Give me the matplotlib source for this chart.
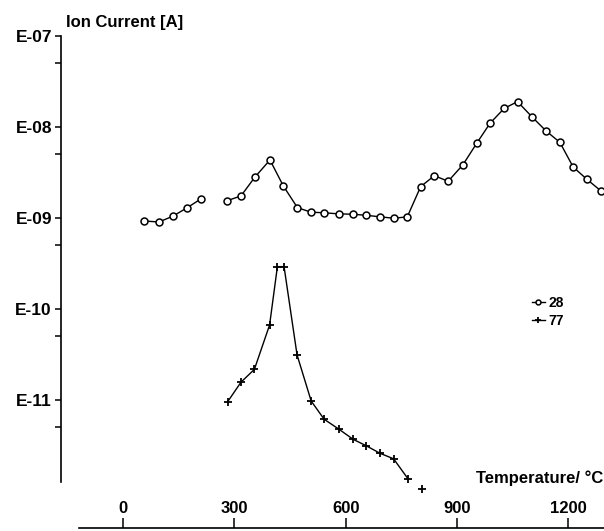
import numpy as np
import matplotlib
matplotlib.use('Agg')
import matplotlib.pyplot as plt
from matplotlib.ticker import FixedLocator, NullFormatter

plt.rcParams['font.family'] = ['Liberation Sans', 'DejaVu Sans']

# mass 28 (circles); two separate pieces
t28a = [57, 97, 135, 172, 210]
v28a = [9.27e-10, 9.04e-10, 1.05e-09, 1.29e-09, 1.62e-09]
t28b = [281, 318, 355, 396, 432, 470, 506, 542, 582, 619, 656, 693, 730, 766,
        802, 839, 876, 916, 953, 989, 1027, 1063, 1103, 1140, 1177, 1213, 1250, 1288]
v28b = [1.55e-09, 1.75e-09, 2.80e-09, 4.34e-09, 2.25e-09, 1.30e-09, 1.16e-09,
        1.14e-09, 1.11e-09, 1.10e-09, 1.07e-09, 1.03e-09, 9.93e-10, 1.03e-09,
        2.21e-09, 2.92e-09, 2.53e-09, 3.85e-09, 6.62e-09, 1.10e-08, 1.60e-08,
        1.90e-08, 1.28e-08, 9.04e-09, 6.79e-09, 3.63e-09, 2.66e-09, 1.98e-09]

# mass 77 (plus signs)
t77 = [282, 318, 354, 395, 416, 434, 469, 507, 542, 581, 620, 656, 693, 729, 768]
v77 = [9.57e-12, 1.57e-11, 2.17e-11, 6.67e-11, 2.92e-10, 2.92e-10, 3.13e-11,
       9.75e-12, 6.14e-12, 4.80e-12, 3.70e-12, 3.13e-12, 2.59e-12, 2.26e-12, 1.36e-12]
t77_last = [806]
v77_last = [1.06e-12]

ytick_vals = [1e-7, 1e-8, 1e-9, 1e-10, 1e-11]
ytick_labels = ['E-07', 'E-08', 'E-09', 'E-10', 'E-11']
yminor_vals = [5e-8, 5e-9, 5e-10, 5e-11, 5e-12]
xtick_vals = [0, 300, 600, 900, 1200]

fig = plt.figure(figsize=(6.04, 5.31), dpi=100)
ax = fig.add_axes([61 / 604, 1 - 500 / 531, 543 / 604, 464 / 531])
ax.set_yscale('log')
ax.set_xlim(-167, 1296)
ax.set_ylim(10 ** -12.099, 1e-7)

lw = 1.0
ax.plot(t28a, v28a, color='black', lw=lw, marker='o', ms=5, mfc='white', mec='black', mew=1.1)
ax.plot(t28b, v28b, color='black', lw=lw, marker='o', ms=5, mfc='white', mec='black', mew=1.1,
        label='28')
ax.plot(t77, v77, color='black', lw=lw, marker='+', ms=6, mew=1.3, label='77')
ax.plot(t77_last, v77_last, color='black', lw=0, marker='+', ms=6, mew=1.3)

for s in ['top', 'right']:
    ax.spines[s].set_visible(False)
ax.spines['left'].set_bounds(10 ** -11.9, 1e-7)
ax.spines['left'].set_linewidth(1.2)

ax.yaxis.set_major_locator(FixedLocator(ytick_vals))
ax.set_yticklabels(ytick_labels)
ax.yaxis.set_minor_locator(FixedLocator(yminor_vals))
ax.yaxis.set_minor_formatter(NullFormatter())
ax.tick_params(axis='y', which='both', direction='out', length=4.5, width=1.1, pad=2,
               labelsize=12.5)
for lab in ax.get_yticklabels():
    lab.set_fontweight('bold')

# x axis drawn detached below the data, labels above the line
ax.spines['bottom'].set_position(('outward', 20.5))
ax.spines['bottom'].set_bounds(-118, 1296)
ax.spines['bottom'].set_linewidth(1.2)
ax.set_xticks(xtick_vals)
ax.set_xticklabels([str(v) for v in xtick_vals])
ax.tick_params(axis='x', direction='in', length=7, width=1.1, pad=-9, labelsize=12)
for lab in ax.get_xticklabels():
    lab.set_fontweight('bold')
    lab.set_va('bottom')

fig.text(66 / 604, 1 - 22 / 531, 'Ion Current [A]', fontsize=12, fontweight='bold',
         va='center', ha='left')
fig.text(603 / 604, 1 - 478 / 531, 'Temperature/ °C', fontsize=12, fontweight='bold',
         va='center', ha='right')

leg = ax.legend(loc='upper left', bbox_to_anchor=((532 - 61) / 543, (500 - 296) / 464),
                frameon=False, handlelength=0.9, handletextpad=0.3, labelspacing=0.3,
                fontsize=10, markerscale=0.7, borderaxespad=0, borderpad=0)
for txt in leg.get_texts():
    txt.set_fontweight('bold')

fig.savefig('out.png', dpi=100)
